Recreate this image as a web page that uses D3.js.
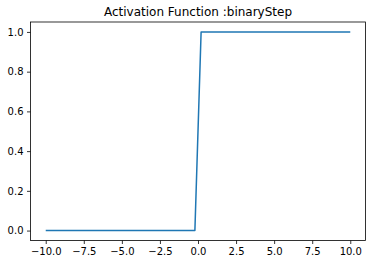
<!DOCTYPE html>
<html><head><meta charset="utf-8">
<script src="https://cdn.jsdelivr.net/npm/d3@7"></script>
<style>body{margin:0;background:#fff}svg{display:block}</style>
</head><body>
<script>
const title = "Activation Function :binaryStep";
const xs = [-10, -0.204, 0.204, 10];
const ys = [0, 0, 1, 1];
const xTicks = [-10, -7.5, -5, -2.5, 0, 2.5, 5, 7.5, 10];
const yTicks = [0, 0.2, 0.4, 0.6, 0.8, 1.0];

const W = 372, H = 264;
const L = 30.5, R = 365.5, T = 22, B = 240.5;
const svg = d3.select("body").append("svg").attr("width", W).attr("height", H);
svg.append("rect").attr("width", W).attr("height", H).attr("fill", "#fff");

const x = d3.scaleLinear().domain([-11, 11]).range([L, R]);
const y = d3.scaleLinear().domain([-0.05, 1.05]).range([B, T]);

const font = "DejaVu Sans, sans-serif";
const xAxis = svg.append("g").attr("transform", `translate(0,${B})`)
  .call(d3.axisBottom(x).tickValues(xTicks).tickSize(3.5).tickPadding(3.5).tickFormat(d => d3.format(".1f")(d).replace("-", "\u2212")));
const yAxis = svg.append("g").attr("transform", `translate(${L},0)`)
  .call(d3.axisLeft(y).tickValues(yTicks).tickSize(3.5).tickPadding(3.5).tickFormat(d3.format(".1f")));
[xAxis, yAxis].forEach(g => {
  g.select(".domain").remove();
  g.selectAll("line").attr("stroke", "#000").attr("stroke-width", 0.8);
  g.selectAll("text").attr("font-family", font).attr("font-size", 10).attr("fill", "#000");
});

const line = d3.line().x((d, i) => x(xs[i])).y((d, i) => y(ys[i]));
svg.append("path").datum(xs).attr("d", line).attr("fill", "none")
  .attr("stroke", "#1f77b4").attr("stroke-width", 1.5).attr("stroke-linejoin", "round");

svg.append("rect").attr("x", L).attr("y", T).attr("width", R - L).attr("height", B - T)
  .attr("fill", "none").attr("stroke", "#000").attr("stroke-width", 0.8);

svg.append("text").attr("x", (L + R) / 2).attr("y", 16).attr("text-anchor", "middle")
  .attr("font-family", font).attr("font-size", 12).attr("fill", "#000").text(title);
</script>
</body></html>
